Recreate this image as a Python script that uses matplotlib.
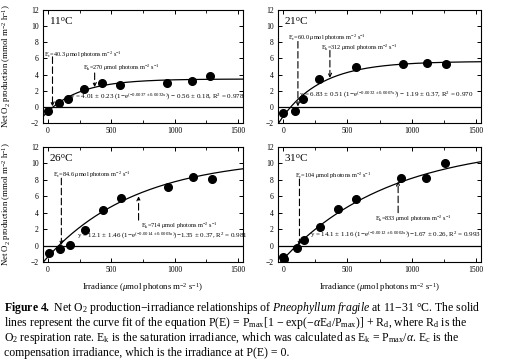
import numpy as np
import matplotlib.pyplot as plt
from matplotlib.ticker import MultipleLocator

plt.rcParams['font.family'] = ['Liberation Serif', 'DejaVu Serif']
plt.rcParams['mathtext.fontset'] = 'custom'
plt.rcParams['mathtext.rm'] = 'Liberation Serif'
plt.rcParams['mathtext.it'] = 'Liberation Serif:italic'
plt.rcParams['mathtext.bf'] = 'Liberation Serif:bold'

# data
temps = ['11', '21', '26', '31']
x11 = [0, 90, 160, 285, 430, 572, 940, 1135, 1282]
y11 = [-0.5, 0.5, 1.0, 2.2, 2.9, 2.7, 3.0, 3.2, 3.8]
x21 = [0, 90, 155, 283, 565, 930, 1122, 1265]
y21 = [-0.8, -0.5, 0.95, 3.4, 4.9, 5.3, 5.4, 5.3]
x26 = [8, 98, 172, 292, 436, 580, 950, 1145, 1292]
y26 = [-0.9, -0.45, 0.1, 1.85, 4.3, 5.8, 7.1, 8.3, 8.1]
x31 = [0, 5, 108, 165, 285, 427, 565, 921, 1112, 1260]
y31 = [-1.4, -1.6, -0.3, 0.7, 2.3, 4.4, 5.7, 8.2, 8.2, 10.1]

# fit parameters (Pmax, Ek, Rd) and Ec from the labels
pmax = [4.01, 6.83, 12.1, 14.1]
ek = [270, 312, 714, 833]
rd = [-0.56, -1.19, -1.35, -1.67]
ec_lab = ['40.3', '60.0', '84.6', '104']
ek_lab = ['270', '312', '714', '833']
eqs = [r'y = 4.01 $\pm$ 0.23 (1$-$e$^{(-0.0037 \pm 0.0032x)}$) $-$ 0.56 $\pm$ 0.18, R$^2$ = 0.978',
       r'y = 6.83 $\pm$ 0.51 (1$-$e$^{(-0.0032 \pm 0.0007x)}$) $-$ 1.19 $\pm$ 0.37, R$^2$ = 0.970',
       r'y = 12.1 $\pm$ 1.46 (1$-$e$^{(-0.0014 \pm 0.0003x)}$)$-$1.35 $\pm$ 0.37, R$^2$ = 0.981',
       r'y = 14.1 $\pm$ 1.16 (1$-$e$^{(-0.0012 \pm 0.0002x)}$)$-$1.67 $\pm$ 0.26, R$^2$ = 0.993']
xs = [x11, x21, x26, x31]
ys = [y11, y21, y26, y31]

# annotation placement (data coords)
ec_line = [(35, 6.2), (115, 8.1), (105, 8.2), (127, 8.1)]
ec_text = [(-30, 6.5), (40, 8.6), (40, 8.6), (90, 8.5)]
ek_arrow = [(368, 4.2, 2.45), (364, 7.0, 3.6), (715, 3.1, 6.0), (895, 4.0, 7.8)]
ek_text = [(275, 4.8), (295, 7.3), (735, 2.4), (712, 3.3)]
eq_pos = [(170, 0.55), (125, 0.85), (230, 0.6), (210, 0.7)]

fig = plt.figure(figsize=(5.05, 3.64), dpi=100)
boxes = [[43/505, 1-123/364, 200/505, 113/364],
         [278/505, 1-123/364, 203/505, 113/364],
         [43/505, 1-262/364, 200/505, 115/364],
         [278/505, 1-262/364, 203/505, 115/364]]

xc = np.linspace(-60, 1560, 400)
for i in range(4):
    ax = fig.add_axes(boxes[i])
    ax.set_xlim(-40, 1540)
    ax.set_ylim(-2, 12)
    ax.axhline(0, color='k', lw=0.9)
    ax.plot(xc, pmax[i]*(1-np.exp(-xc/ek[i])) + rd[i], color='k', lw=0.9)
    ax.plot(xs[i], ys[i], 'o', color='k', ms=5.5)

    ex, ey = ec_line[i]
    ax.annotate('', xy=(ex, 0.05), xytext=(ex, ey),
                arrowprops=dict(arrowstyle='->', ls=(0, (6, 3)), lw=0.8,
                                shrinkA=0, shrinkB=0, mutation_scale=6))
    ax.text(ec_text[i][0], ec_text[i][1],
            r'E$_{\rm c}$=' + ec_lab[i] + r' $\mu$mol photons m$^{-2}$ s$^{-1}$',
            fontsize=4.5, va='center')
    kx, ky0, ky1 = ek_arrow[i]
    ax.annotate('', xy=(kx, ky1), xytext=(kx, ky0),
                arrowprops=dict(arrowstyle='->', ls=(0, (6, 3)), lw=0.8,
                                shrinkA=0, shrinkB=0, mutation_scale=6))
    ax.text(ek_text[i][0], ek_text[i][1],
            r'E$_{\rm k}$=' + ek_lab[i] + r' $\mu$mol photons m$^{-2}$ s$^{-1}$',
            fontsize=4.5, va='center')
    ax.text(eq_pos[i][0], eq_pos[i][1], eqs[i], fontsize=5, va='bottom')
    ax.text(0.03, 0.9, temps[i] + r'$^{\rm o}$C', transform=ax.transAxes,
            fontsize=8, va='center')

    ax.set_xticks([0, 500, 1000, 1500])
    ax.set_yticks(range(-2, 13, 2))
    ax.xaxis.set_minor_locator(MultipleLocator(250))
    ax.tick_params(direction='in', top=True, right=True, labelsize=5.5,
                   length=3, width=0.7, pad=3)
    ax.tick_params(which='minor', direction='in', top=True, length=2, width=0.6)
    for s in ax.spines.values():
        s.set_linewidth(0.8)
    if i % 2 == 0:
        ax.set_ylabel(r'Net O$_2$ production (mmol m$^{-2}$ h$^{-1}$)', fontsize=6.3)
        ax.yaxis.set_label_coords(-0.15, 0.5)
    if i >= 2:
        ax.set_xlabel(r'Irradiance ($\mu$mol photons m$^{-2}$ s$^{-1}$)', fontsize=6.3,
                      labelpad=5)

cap = [r'$\mathbf{Figure\ 4.}$ Net O$_2$ production$-$irradiance relationships of $\mathit{Pneophyllum\ fragile}$ at 11$-$31 $\degree$C. The solid',
       r'lines represent the curve fit of the equation P(E) = P$_{\rm max}$[1 $-$ exp($-\alpha$E$_{\rm d}$/P$_{\rm max}$)] + R$_{\rm d}$, where R$_{\rm d}$ is the',
       r'O$_2$ respiration rate. E$_{\rm k}$ is the saturation irradiance, which was calculated as E$_{\rm k}$ = P$_{\rm max}$/$\alpha$. E$_{\rm c}$ is the',
       r'compensation irradiance, which is the irradiance at P(E) = 0.']
cap_y = [308, 323, 338, 353]
for t, yy in zip(cap, cap_y):
    fig.text(4/505, 1-yy/364, t, fontsize=8.5, va='center', ha='left')

fig.savefig('out.png', dpi=100)
